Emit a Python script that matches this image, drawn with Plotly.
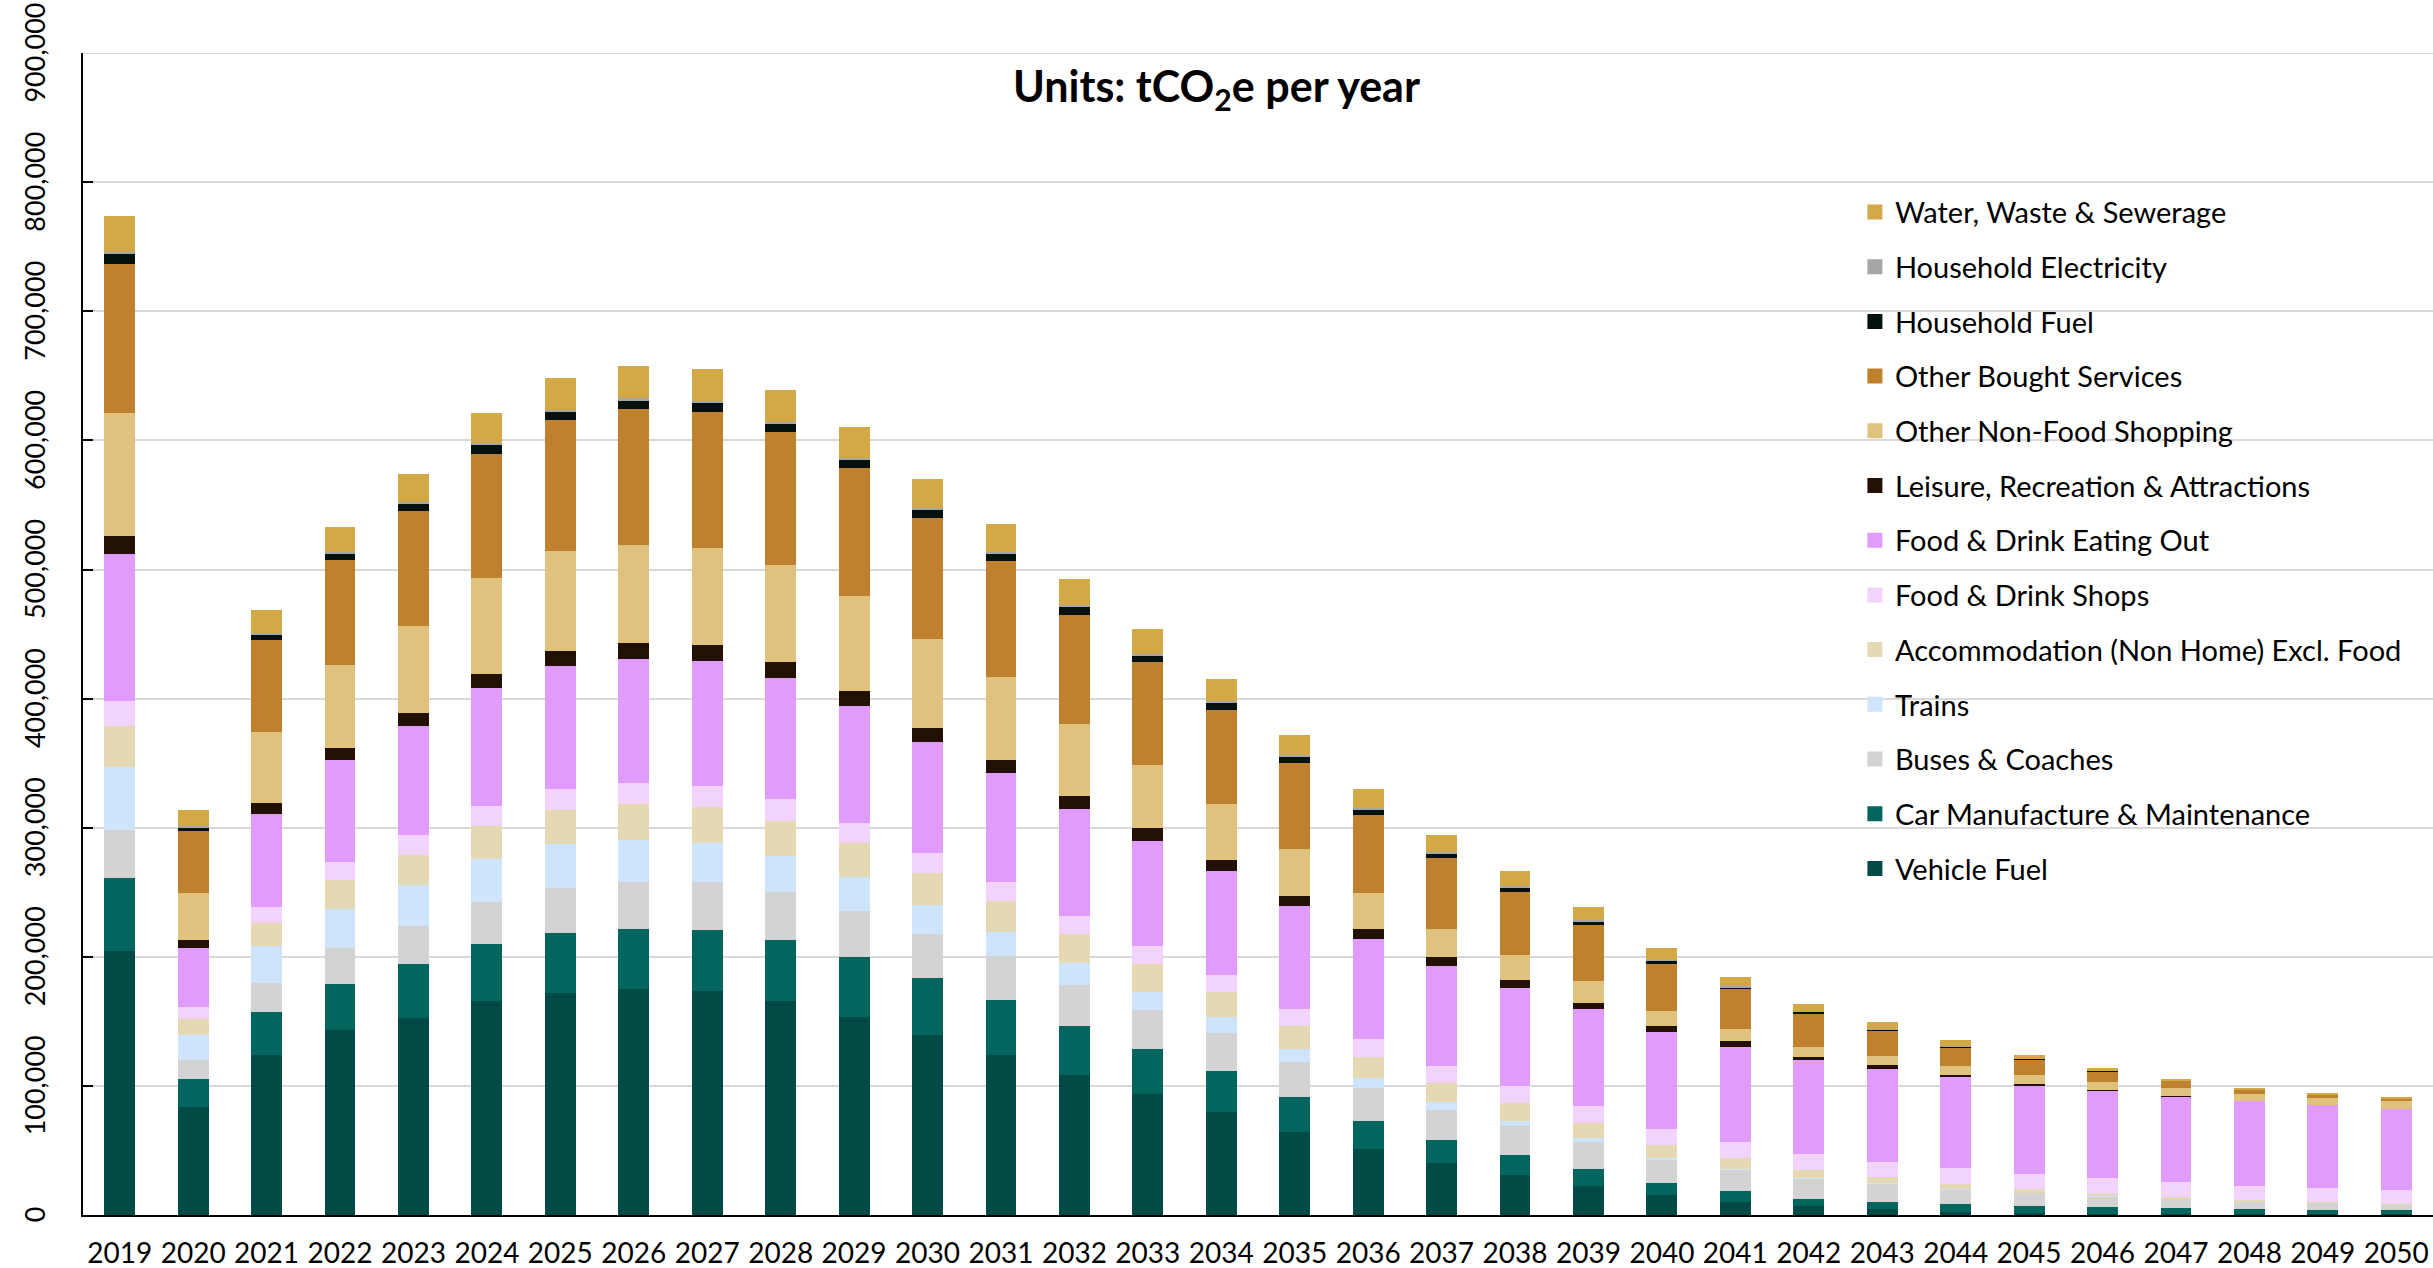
import plotly.graph_objects as go

# Annual emissions by consumption category, tCO2e
years = [str(y) for y in range(2019, 2051)]

vehicle_fuel = [204800, 83300, 124200, 143000, 152700, 166100, 172300, 175100, 173700, 165900,
                153500, 139800, 124200, 108500, 93600, 79700, 64200, 51300, 40400, 31300,
                22800, 15800, 10300, 7200, 4900, 2600, 1500, 1000, 700, 500, 400, 400]
car_manufacture = [56000, 22100, 32800, 36000, 41400, 43600, 46300, 46700, 47200, 47200,
                   46300, 44000, 42600, 37800, 35100, 31800, 27100, 21500, 17800, 14800,
                   13200, 9300, 8600, 5500, 5400, 6200, 5500, 5200, 4700, 4200, 3500, 3500]
buses_coaches = [37600, 15000, 23100, 28000, 30100, 32800, 34800, 36200, 36700, 37100,
                 35800, 33900, 33900, 31700, 30100, 29500, 27200, 25500, 23200, 22500,
                 20900, 17800, 16300, 15500, 13800, 10900, 10100, 7800, 7000, 5400, 5400, 3900]
trains = [48900, 19400, 28000, 30100, 31200, 33300, 34000, 32600, 30700, 28000,
          26500, 22400, 18800, 17200, 13900, 12500, 10200, 7900, 6300, 4600,
          3100, 1600, 800, 300, 700, 700, 300, 700, 300, 200, 100, 700]
accommodation = [31200, 12400, 18200, 22600, 23100, 25800, 26500, 27900, 27900, 27000,
                 26200, 24800, 23900, 22500, 21900, 19200, 17600, 16200, 14500, 13200,
                 10900, 10100, 8500, 6400, 5000, 3900, 2800, 1600, 1300, 1300, 900, 300]
food_shops = [19900, 8600, 12400, 13400, 15600, 15600, 16100, 16100, 16100, 17000,
              15600, 15600, 14600, 13900, 13900, 13300, 13200, 13900, 13300, 13200,
              13200, 12400, 12400, 12400, 11600, 12400, 11600, 12400, 11600, 10900, 10600, 10600]
eating_out = [114000, 46200, 72100, 79600, 84400, 91400, 95300, 96200, 97100, 93900,
              90700, 86100, 84300, 82800, 81000, 80400, 79700, 77500, 77400, 76100,
              75300, 74500, 73000, 73000, 71400, 69900, 68700, 67400, 65900, 65900, 64400, 62800]
leisure = [13900, 6400, 8000, 9100, 10700, 10800, 11900, 12400, 12400, 12400,
           11500, 10600, 10100, 10200, 10300, 8600, 8000, 7600, 7000, 6200,
           4600, 4700, 4600, 2300, 3100, 1600, 800, 800, 700, 200, 100, 100]
non_food_shopping = [94700, 36100, 55400, 64000, 67300, 74100, 77000, 76000, 75200, 75200,
                     73300, 69200, 64700, 55600, 48600, 43300, 36400, 28100, 21500, 19400,
                     17100, 11600, 9400, 7800, 7000, 6900, 7200, 6200, 6200, 5200, 5300, 6100]
bought_services = [115600, 48300, 71000, 81200, 88700, 96300, 101800, 105000, 104900, 103100,
                   99400, 93500, 89800, 84400, 79800, 72800, 66500, 60200, 55200, 48900,
                   43500, 36500, 31000, 25600, 20200, 14800, 11700, 8000, 5500, 3100, 2300, 1500]
household_fuel = [7500, 2100, 4300, 5400, 5300, 6400, 5900, 6400, 7300, 5900,
                  6000, 6400, 5000, 6300, 5000, 5300, 4600, 4000, 3700, 3600,
                  3100, 3100, 1600, 1500, 800, 800, 700, 500, 300, 100, 100, 100]
household_electricity = [2100, 1200, 1000, 1000, 1700, 1600, 1800, 2300, 1400, 1900,
                         1800, 1400, 1800, 1600, 1600, 1700, 1700, 1700, 1000, 800,
                         500, 500, 600, 300, 500, 300, 200, 200, 200, 100, 0, 0]
water_waste = [28000, 12300, 17800, 19900, 21500, 23200, 24800, 24800, 24800, 24700,
               23800, 22400, 21600, 20200, 19200, 17200, 15200, 14500, 12900, 11900,
               10300, 8800, 7200, 6000, 5000, 4300, 2900, 2200, 1000, 700, 800, 800]

# Y-axis ticks
y_tick_values = [0, 100000, 200000, 300000, 400000, 500000, 600000, 700000, 800000, 900000]
y_tick_labels = ["0", "100,000", "200,000", "300,000", "400,000",
                 "500,000", "600,000", "700,000", "800,000", "900,000"]

# Stacked bottom-to-top
series = [
    ("Vehicle Fuel", vehicle_fuel, "#014A46"),
    ("Car Manufacture & Maintenance", car_manufacture, "#03665E"),
    ("Buses & Coaches", buses_coaches, "#D3D3D3"),
    ("Trains", trains, "#CDE4FB"),
    ("Accommodation (Non Home) Excl. Food", accommodation, "#E5D9B4"),
    ("Food & Drink Shops", food_shops, "#F1D3FD"),
    ("Food & Drink Eating Out", eating_out, "#E09BFC"),
    ("Leisure, Recreation & Attractions", leisure, "#231106"),
    ("Other Non-Food Shopping", non_food_shopping, "#DFC27D"),
    ("Other Bought Services", bought_services, "#BF812D"),
    ("Household Fuel", household_fuel, "#04110F"),
    ("Household Electricity", household_electricity, "#A6A6A6"),
    ("Water, Waste & Sewerage", water_waste, "#D2A946"),
]

FONT = "Lato, Carlito, Calibri, sans-serif"

fig = go.Figure()
for name, vals, color in series:
    fig.add_trace(go.Bar(
        x=years, y=vals, name=name, showlegend=False,
        marker=dict(color=color, line=dict(width=0)),
    ))

# Legend keys: square swatches listed from the top of the stack downwards
for rank, (name, vals, color) in enumerate(reversed(series)):
    fig.add_trace(go.Scatter(
        x=[None], y=[None], mode="markers", name=name,
        legendgroup=name, legendrank=rank + 1,
        marker=dict(symbol="square", size=15, color=color),
    ))

# Top gridline at the upper end of the value axis
fig.add_shape(
    type="line", xref="paper", x0=0, x1=1, yref="y",
    y0=y_tick_values[-1], y1=y_tick_values[-1],
    line=dict(color="#D9D9D9", width=1.5), layer="below",
)

fig.update_layout(
    width=2433, height=1268,
    barmode="stack", bargap=0.58,
    plot_bgcolor="white", paper_bgcolor="white",
    margin=dict(l=83, r=0, t=53, b=53, autoexpand=False),
    font=dict(family=FONT, size=28, color="black"),
    title=dict(
        text="<b>Units: tCO<sub>2</sub>e per year</b>",
        x=0.5, xref="container", xanchor="center",
        y=1 - 87 / 1268, yref="container", yanchor="middle",
        font=dict(family=FONT, size=43, color="black"),
    ),
    legend=dict(
        x=0.754, xanchor="left", y=0.885, yanchor="top",
        traceorder="grouped", tracegroupgap=14,
        bgcolor="rgba(0,0,0,0)",
        font=dict(family=FONT, size=29, color="black"),
    ),
    xaxis=dict(
        type="category", showline=True, linecolor="black", linewidth=2,
        ticks="", showgrid=False, ticklabelstandoff=12, automargin=False,
        tickfont=dict(family=FONT, size=28, color="black"),
    ),
    yaxis=dict(
        range=[0, 900100], tickmode="array",
        tickvals=y_tick_values,
        ticktext=[t + "\u00a0" for t in y_tick_labels],
        showgrid=True, gridcolor="#D9D9D9", gridwidth=1.5,
        showline=True, linecolor="black", linewidth=2,
        ticks="inside", ticklen=10, tickwidth=2, tickcolor="black",
        tickangle=-90, ticklabelstandoff=25, ticklabeloverflow="allow",
        zeroline=False, automargin=False,
        tickfont=dict(family=FONT, size=27, color="black"),
    ),
)

fig.write_html("out.html")
